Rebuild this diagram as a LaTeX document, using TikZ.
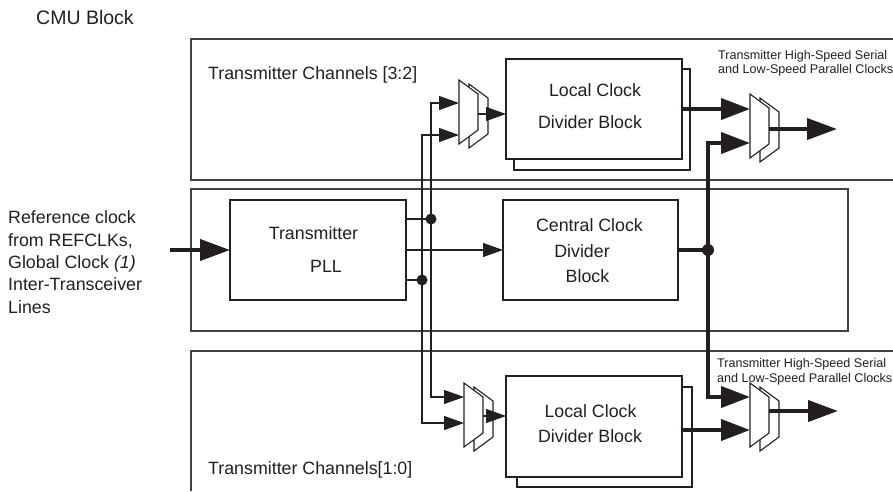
\documentclass[tikz,border=0pt]{standalone}
\usepackage{fontspec}
\setmainfont{Liberation Sans}
\usetikzlibrary{arrows.meta}
\definecolor{ink}{HTML}{231F20}
\tikzset{
  panel/.style={draw=ink!85, line width=1.3pt},
  blockbox/.style={draw=ink, line width=1.2pt, fill=white, inner sep=0pt, outer sep=0pt},
  txt/.style={inner sep=0pt, font=\fontsize{17.8}{22.5}\selectfont, text=ink},
  bigtxt/.style={inner sep=0pt, font=\fontsize{19.5}{22}\selectfont, text=ink},
  smalltxt/.style={inner sep=0pt, font=\fontsize{12.6}{14}\selectfont, text=ink},
  wire/.style={draw=ink, line width=1.1pt},
  wirearrow/.style={wire, -{Triangle[length=20pt,width=14pt]}},
  bus/.style={draw=ink, line width=4pt},
  busarrow/.style={bus, -{Triangle[length=29pt,width=21pt]}},
  bigarrow/.style={bus, -{Triangle[length=30pt,width=21pt]}},
  muxline/.style={draw=ink, line width=1.1pt, fill=white, line join=miter},
  dotmark/.style={fill=ink}
}
\newcommand{\muxdraw}[3]{%
  \draw[muxline] (#1+10,#2+4) -- (#1+29,#2+18) -- (#1+29,#2+54) -- (#1+10,#2+68) -- cycle;
  \draw[muxline] (#1,#2) -- (#1+19,#2+14) -- (#1+19,#2+50) -- (#1,#2+64) -- cycle;
}
\begin{document}
\begin{tikzpicture}[x=1pt,y=-1pt]
\useasboundingbox (0,0) rectangle (893,491);

% panels
\draw[panel] (893,39) -- (191,39) -- (191,180) -- (893,180);
\draw[panel] (191,189) rectangle (848,331);
\draw[panel] (893,351) -- (191,351) -- (191,491);

% titles
\node[bigtxt, anchor=base west] (cmu) at (36,24) {CMU Block};
\node[txt, anchor=base west] (tc32) at (208,79) {Transmitter Channels [3:2]};
\node[txt, anchor=base west] (tc10) at (208,474) {Transmitter Channels[1:0]};
\node[smalltxt, anchor=base west] (hs1a) at (718,59.5) {Transmitter High-Speed Serial};
\node[smalltxt, anchor=base west] (hs1b) at (718,73.5) {and Low-Speed Parallel Clocks};
\node[smalltxt, anchor=base west] (hs2a) at (717,367.5) {Transmitter High-Speed Serial};
\node[smalltxt, anchor=base west] (hs2b) at (717,382.5) {and Low-Speed Parallel Clocks};

% left input text
\node[txt, anchor=base west] (ref1) at (8,223) {Reference clock};
\node[txt, anchor=base west] (ref2) at (8,246) {from REFCLKs,};
\node[txt, anchor=base west] (ref3) at (8,268) {Global Clock \textit{(1)}};
\node[txt, anchor=base west] (ref4) at (8,290) {Inter-Transceiver};
\node[txt, anchor=base west] (ref5) at (8,313) {Lines};

% PLL
\node[blockbox, minimum width=176pt, minimum height=100pt] (pll) at (318,250) {};
\node[txt, anchor=base] (pllt1) at (313.5,239.5) {Transmitter};
\node[txt, anchor=base] (pllt2) at (326,272.5) {PLL};

% central clock divider
\node[blockbox, minimum width=175pt, minimum height=100pt] (cdb) at (590.5,250) {};
\node[txt, anchor=base] (cdbt1) at (589.5,231.5) {Central Clock};
\node[txt, anchor=base] (cdbt2) at (582,257.5) {Divider};
\node[txt, anchor=base] (cdbt3) at (587.5,282.5) {Block};

% local clock divider blocks
\node[blockbox, minimum width=176pt, minimum height=101pt] (lcd1s) at (602,119.5) {};
\node[blockbox, minimum width=176pt, minimum height=100pt] (lcd1) at (594,109) {};
\node[txt, anchor=base] (lcd1t1) at (595,96.5) {Local Clock};
\node[txt, anchor=base] (lcd1t2) at (590,128.5) {Divider Block};

\node[blockbox, minimum width=175pt, minimum height=100pt] (lcd2s) at (604.5,437) {};
\node[blockbox, minimum width=176pt, minimum height=101pt] (lcd2) at (594,426.5) {};
\node[txt, anchor=base] (lcd2t1) at (590.5,417.5) {Local Clock};
\node[txt, anchor=base] (lcd2t2) at (590,442.5) {Divider Block};

% coordinates
\coordinate (refin) at (170,250);
\coordinate (j1) at (431,219);
\coordinate (j2) at (422,280);
\coordinate (j3) at (708,250);
\coordinate (m1a) at (459,103);
\coordinate (m1b) at (459,135);
\coordinate (m1o) at (478,114);
\coordinate (m2a) at (464,397);
\coordinate (m2b) at (464,423);
\coordinate (m2o) at (483,416);
\coordinate (m3a) at (750,109);
\coordinate (m3b) at (750,143);
\coordinate (m3o) at (769,129);
\coordinate (m4a) at (750,397);
\coordinate (m4b) at (750,430);
\coordinate (m4o) at (769,411);
\coordinate (out1) at (837,129);
\coordinate (out2) at (838,411);

% reference clock input
\draw[bigarrow] (refin) -- (pll.west);

% PLL outputs
\draw[wire] (pll.east |- j1) -- (j1);
\draw[wire] (pll.east |- j2) -- (j2);
\draw[wirearrow] (pll.east) -- (cdb.west);
\draw[wirearrow] (j1) |- (m1a);
\draw[wirearrow] (j1) |- (m2a);
\draw[wirearrow] (j2) |- (m1b);
\draw[wirearrow] (j2) |- (m2b);
\fill[dotmark] (j1) circle[radius=5.5pt];
\fill[dotmark] (j2) circle[radius=5.5pt];

% central divider output bus
\draw[bus] (cdb.east) -- (j3);
\draw[busarrow] (j3) |- (m3b);
\draw[busarrow] (j3) |- (m4a);
\fill[dotmark] (j3) circle[radius=6pt];

% local divider outputs
\draw[busarrow] (lcd1.east |- m3a) -- (m3a);
\draw[busarrow] (lcd2.east |- m4b) -- (m4b);

% muxes
\muxdraw{459}{80}{m1}
\muxdraw{464}{383}{m2}
\muxdraw{750}{94}{m3}
\muxdraw{750}{383}{m4}

% mux outputs
\draw[wirearrow] (m1o) -- (lcd1.west |- m1o);
\draw[wirearrow] (m2o) -- (lcd2.west |- m2o);
\draw[bigarrow] (m3o) -- (out1);
\draw[bigarrow] (m4o) -- (out2);
\end{tikzpicture}
\end{document}
